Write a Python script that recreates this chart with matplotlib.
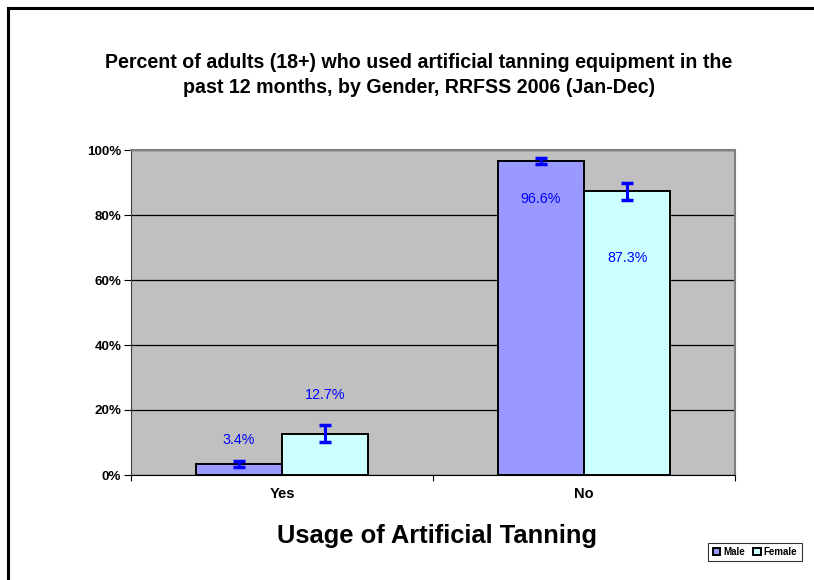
import matplotlib.pyplot as plt
from matplotlib.patches import Rectangle

plt.rcParams['font.family'] = ['Liberation Sans', 'DejaVu Sans']

categories = ['Yes', 'No']
male = [3.4, 96.6]
female = [12.7, 87.3]
male_err = [0.9, 0.8]
female_err = [2.6, 2.7]
# where Excel put the data labels (in %)
male_label_y = [10.8, 85.0]
female_label_y = [24.6, 66.8]

W, H = 814, 580
fig = plt.figure(figsize=(W / 100, H / 100), dpi=100)
ax = fig.add_axes([131 / W, 1 - 475 / H, (735 - 131) / W, (475 - 150) / H])

# outer chart border
fig.patches.append(Rectangle((8 / W, -0.05), 1.1, 1 - 8 / H + 0.05,
                             transform=fig.transFigure, fill=False,
                             edgecolor='black', linewidth=2.2))

ax.set_facecolor('#C0C0C0')
width = 0.286
x = range(len(categories))
xm = [i - width / 2 for i in x]
xf = [i + width / 2 for i in x]

ax.bar(xm, male, width, color='#9999FF', edgecolor='black', linewidth=1.4,
       label='Male', zorder=3)
ax.bar(xf, female, width, color='#CCFFFF', edgecolor='black', linewidth=1.4,
       label='Female', zorder=3)
ax.errorbar(xm, male, yerr=male_err, fmt='none', ecolor='#0000FF',
            elinewidth=2.2, capsize=4, capthick=2.5, zorder=4)
ax.errorbar(xf, female, yerr=female_err, fmt='none', ecolor='#0000FF',
            elinewidth=2.2, capsize=4, capthick=2.5, zorder=4)

for xi, v, ly in zip(xm, male, male_label_y):
    ax.text(xi, ly, '%.1f%%' % v, ha='center', va='center',
            color='#0000FF', fontsize=10.3, zorder=5)
for xi, v, ly in zip(xf, female, female_label_y):
    ax.text(xi, ly, '%.1f%%' % v, ha='center', va='center',
            color='#0000FF', fontsize=10.3, zorder=5)

ax.set_xlim(-0.5, 1.5)
ax.set_ylim(0, 100)
ax.set_yticks([0, 20, 40, 60, 80, 100])
ax.set_yticklabels(['%d%%' % t for t in range(0, 101, 20)],
                   fontsize=9.6, fontweight='bold')
ax.yaxis.grid(True, color='black', linewidth=0.9, zorder=1)
ax.set_axisbelow(True)

ax.set_xticks([-0.5, 0.5, 1.5])
ax.set_xticklabels([])
ax.set_xticks([0, 1], minor=True)
ax.set_xticklabels(categories, minor=True, fontsize=10.5, fontweight='bold')
ax.tick_params(axis='x', which='minor', length=0, pad=9)
ax.tick_params(axis='x', which='major', length=4, direction='out')
ax.tick_params(axis='y', length=5, direction='out', pad=2)

for side in ['top', 'right']:
    ax.spines[side].set_color('#808080')
    ax.spines[side].set_linewidth(1.5)
ax.spines['left'].set_color('#404040')
ax.spines['bottom'].set_color('black')

fig.text(437 / W, 1 - 536 / H, 'Usage of Artificial Tanning',
         ha='center', va='center', fontsize=18.4, fontweight='bold')
fig.text(419 / W, 1 - 75 / H,
         'Percent of adults (18+) who used artificial tanning equipment in the\n'
         'past 12 months, by Gender, RRFSS 2006 (Jan-Dec)',
         ha='center', va='center', fontsize=14.1, fontweight='bold',
         linespacing=1.45)

leg = fig.legend(loc='center', bbox_to_anchor=(755 / W, 1 - 552 / H),
                 ncol=2, prop={'weight': 'bold', 'size': 7},
                 frameon=True, fancybox=False, handlelength=0.75,
                 handleheight=0.75, handletextpad=0.3, columnspacing=0.9,
                 borderpad=0.45, borderaxespad=0)
leg.get_frame().set_edgecolor('black')
leg.get_frame().set_linewidth(0.8)

fig.savefig('out.png', dpi=100)
